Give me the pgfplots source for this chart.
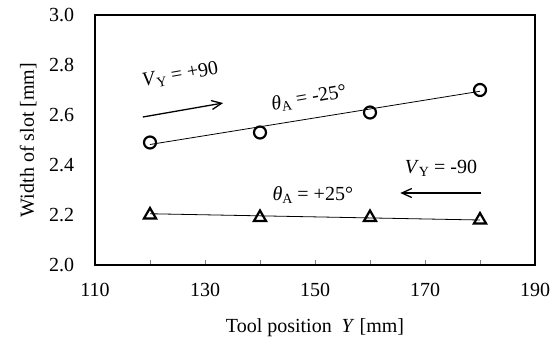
\documentclass[border=0pt]{standalone}
\usepackage{fontspec}
\setmainfont{Liberation Serif}
\usepackage{pgfplots}
\pgfplotsset{compat=1.18}
\usetikzlibrary{arrows.meta}
\newcommand{\sub}[1]{\raisebox{-0.3ex}{\fontsize{14}{16}\selectfont #1}}
\newcommand{\VY}{\textit{V}\sub{Y}}
\newcommand{\thA}{\textit{θ}\sub{A}}
\newcommand{\bigf}{\fontsize{20}{24}\selectfont}
\begin{document}
\bigf
\begin{tikzpicture}[font=\bigf]
\begin{axis}[name=ax, scale only axis, width=440pt, height=250pt,
  xmin=110, xmax=190, ymin=2, ymax=3,
  xtick={110,130,150,170,190}, minor xtick={120,140,160,180},
  ytick={2,2.2,2.4,2.6,2.8,3},
  yticklabel style={/pgf/number format/fixed, /pgf/number format/precision=1, /pgf/number format/fixed zerofill, xshift=-14pt},
  /pgf/number format/assume math mode=true,
  tick label style={font=\bigf},
  label style={font=\bigf},
  xtick pos=bottom, ytick pos=left,
  tick align=inside,
  major tick length=5pt, minor tick length=5pt,
  ytick style={draw=none},
  xtick style={line width=0.8pt},
  minor x tick style={line width=0.8pt},
  axis line style={line width=1.3pt},
  xticklabel style={yshift=-11pt},
  xlabel={Tool position \ \textit{Y} [mm]},
  ylabel={Width of slot [mm]},
  xlabel style={at={(axis description cs:0.5,0)}, anchor=base, yshift=-67pt},
  ylabel style={at={(axis description cs:-0.152,0.5)}, anchor=center},
  clip=false,
]
\addplot[black, line width=0.8pt] coordinates {(120,2.482) (180,2.695)};
\addplot[black, line width=0.8pt] coordinates {(120,2.205) (180,2.180)};
\addplot[only marks, mark=o, mark size=6pt, mark options={line width=2.2pt, fill=white}] coordinates {(120,2.49) (140,2.53) (160,2.61) (180,2.70)};
\addplot[only marks, mark=triangle, mark size=7pt, mark options={line width=2.2pt, fill=white}] coordinates {(120,2.20) (140,2.19) (160,2.19) (180,2.18)};
\draw[-{Straight Barb[length=10pt,width=9pt]}, line width=1.3pt] (axis cs:118.7,2.592) -- (axis cs:133.3,2.648);
\draw[-{Straight Barb[length=10pt,width=9pt]}, line width=1.3pt] (axis cs:180.2,2.288) -- (axis cs:165.5,2.288);
\node[rotate=10] at (axis cs:125.5,2.76) {\VY\ = +90};
\node[rotate=10] at (axis cs:148.9,2.668) {\thA\ = -25°};
\node at (axis cs:172.9,2.388) {\VY\ = -90};
\node at (axis cs:149.6,2.28) {\thA\ = +25°};
\end{axis}
\pgfresetboundingbox
\path ([xshift=-95pt,yshift=-73pt]ax.south west) rectangle ([xshift=20pt,yshift=15pt]ax.north east);
\end{tikzpicture}
\end{document}
